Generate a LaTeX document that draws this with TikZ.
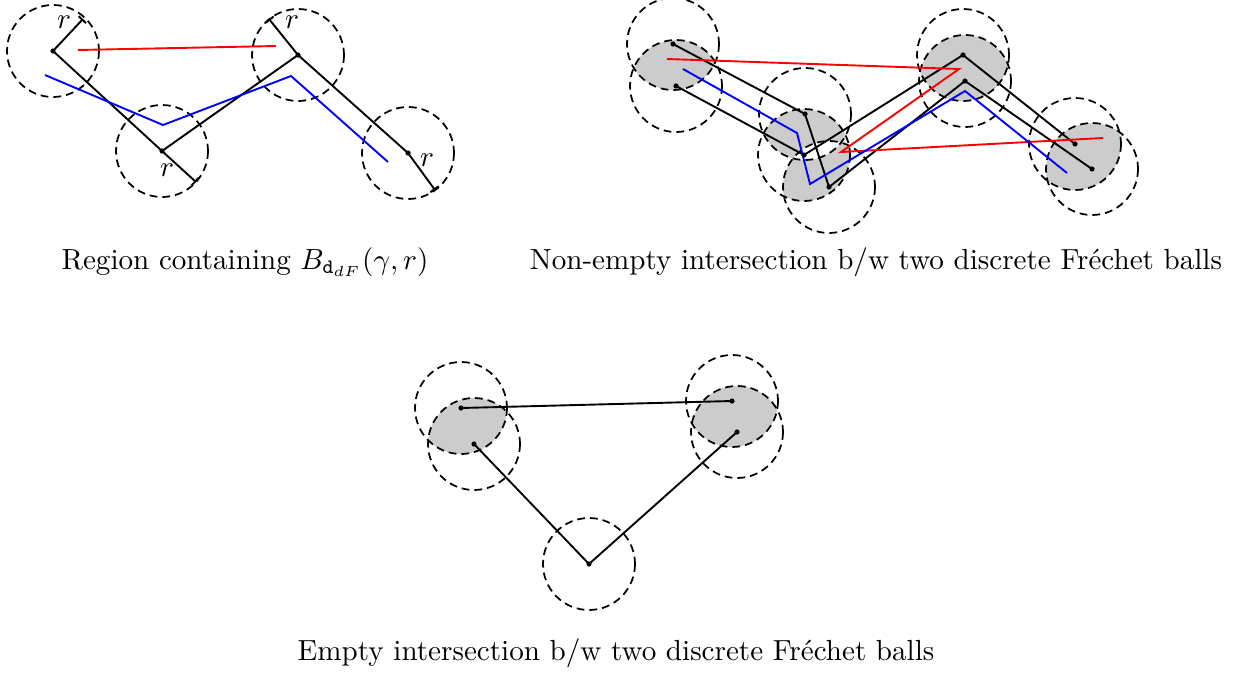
\documentclass[tikz,border=0pt]{standalone}
\usetikzlibrary{arrows.meta}
\definecolor{lensgray}{gray}{0.8}
\begin{document}
\begin{tikzpicture}[x=0.3437pt,y=-0.3437pt,
  ball/.style={draw,line width=0.6pt,dash pattern=on 2.7pt off 1.7pt},
  curve/.style={draw,line width=0.65pt},
  redc/.style={draw=red,line width=0.65pt},
  bluec/.style={draw=blue,line width=0.65pt},
  radline/.style={draw,line width=0.65pt,-{Bar[width=3.5pt,line width=0.65pt]}},
  lens/.style={fill=lensgray},
  lbl/.style={inner sep=0pt},
  captext/.style={anchor=base,inner sep=0pt}]
\useasboundingbox (0,0) rectangle (1236,673);
\def\R{46}
% ---------------- panel 1 ----------------
\coordinate (A) at (53,51);
\coordinate (B) at (162,151);
\coordinate (C) at (298,55);
\coordinate (D) at (408,153);
\coordinate (Ar) at (83,19);
\coordinate (Br) at (196,182);
\coordinate (Cr) at (269,19);
\coordinate (Dr) at (435,190);
\coordinate (r1s) at (78,50);
\coordinate (r1e) at (276,46);
\coordinate (b1a) at (45,75);
\coordinate (b1b) at (163,125);
\coordinate (b1c) at (291,76);
\coordinate (b1d) at (388,162);
\foreach \P in {A,B,C,D} \draw[ball] (\P) circle[radius=\R];
\draw[curve] (A) -- (B) -- (C) -- (D);
\draw[radline] (A) -- (Ar);
\draw[radline] (B) -- (Br);
\draw[radline] (C) -- (Cr);
\draw[radline] (D) -- (Dr);
\draw[redc] (r1s) -- (r1e);
\draw[bluec] (b1a) -- (b1b) -- (b1c) -- (b1d);
\foreach \P in {A,B,C,D} \fill (\P) circle[radius=2.6];
\node[lbl] (lA) at (64,22) {$r$};
\node[lbl] (lB) at (167,170) {$r$};
\node[lbl] (lC) at (292,22) {$r$};
\node[lbl] (lD) at (427,160) {$r$};
% ---------------- panel 2 ----------------
\coordinate (p1) at (673,44);
\coordinate (p2) at (805,114);
\coordinate (p3) at (829,187);
\coordinate (p4) at (965,81);
\coordinate (p5) at (1092,169);
\coordinate (q1) at (676,86);
\coordinate (q2) at (804,155);
\coordinate (q3) at (963,55);
\coordinate (q4) at (1075,144);
% lenses
\begin{scope}\clip (p1) circle[radius=\R]; \fill[lens] (q1) circle[radius=\R];\end{scope}
\begin{scope}\clip (p2) circle[radius=\R]; \fill[lens] (q2) circle[radius=\R];\end{scope}
\begin{scope}\clip (p3) circle[radius=\R]; \fill[lens] (q2) circle[radius=\R];\end{scope}
\begin{scope}\clip (p2) circle[radius=\R]; \clip (q2) circle[radius=\R]; \fill[white] (p3) circle[radius=\R];\end{scope}
\begin{scope}\clip (p4) circle[radius=\R]; \fill[lens] (q3) circle[radius=\R];\end{scope}
\begin{scope}\clip (p5) circle[radius=\R]; \fill[lens] (q4) circle[radius=\R];\end{scope}
\foreach \P in {p1,p2,p3,p4,p5,q1,q2,q3,q4} \draw[ball] (\P) circle[radius=\R];
\draw[curve] (p1) -- (p2) -- (p3) -- (p4) -- (p5);
\draw[curve] (q1) -- (q2) -- (q3) -- (q4);
\coordinate (r2a) at (667,59);
\coordinate (r2b) at (959,69);
\coordinate (r2c) at (841,152);
\coordinate (r2d) at (1103,138);
\draw[redc] (r2a) -- (r2b) -- (r2c) -- (r2d);
\coordinate (b2a) at (683,69);
\coordinate (b2b) at (797,133);
\coordinate (b2c) at (810,184);
\coordinate (b2d) at (965,91);
\coordinate (b2e) at (1067,173);
\draw[bluec] (b2a) -- (b2b) -- (b2c) -- (b2d) -- (b2e);
\foreach \P in {p1,p2,p3,p4,p5,q1,q2,q3,q4} \fill (\P) circle[radius=2.6];
% ---------------- panel 3 ----------------
\coordinate (u1) at (461,408);
\coordinate (u2) at (732,401);
\coordinate (v1) at (474,444);
\coordinate (v2) at (589,564);
\coordinate (v3) at (737,432);
\begin{scope}\clip (u1) circle[radius=\R]; \fill[lens] (v1) circle[radius=\R];\end{scope}
\begin{scope}\clip (u2) circle[radius=\R]; \fill[lens] (v3) circle[radius=\R];\end{scope}
\foreach \P in {u1,u2,v1,v2,v3} \draw[ball] (\P) circle[radius=\R];
\draw[curve] (u1) -- (u2);
\draw[curve] (v1) -- (v2) -- (v3);
\foreach \P in {u1,u2,v1,v2,v3} \fill (\P) circle[radius=2.6];
% ---------------- captions ----------------
\node[captext] (cap1) at (245,269) {Region containing $B_{\mathtt{d}_{dF}}(\gamma,r)$};
\node[captext] (cap2) at (876,269) {Non-empty intersection b/w two discrete Fr\'echet balls};
\node[captext] (cap3) at (616,660) {Empty intersection b/w two discrete Fr\'echet balls};
\end{tikzpicture}
\end{document}
